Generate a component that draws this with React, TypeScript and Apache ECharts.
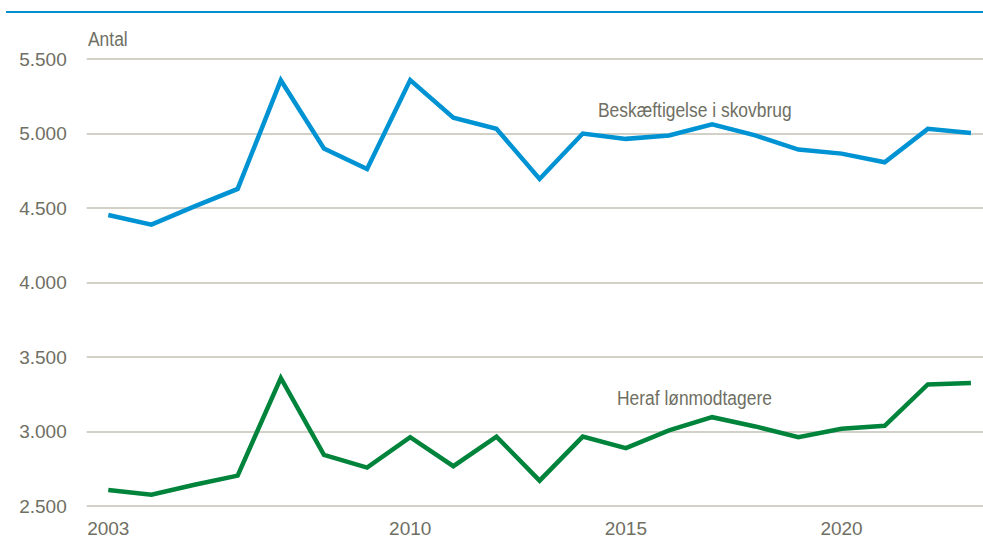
import React, { useEffect, useRef } from "react";
import * as echarts from "echarts";

const years: string[] = [
  "2003", "2004", "2005", "2006", "2007", "2008", "2009", "2010", "2011", "2012",
  "2013", "2014", "2015", "2016", "2017", "2018", "2019", "2020", "2021", "2022", "2023",
];
const shownYears: string[] = ["2003", "2010", "2015", "2020"];

const beskaeftigelse: number[] = [
  4453, 4388, 4511, 4628, 5357, 4899, 4762, 5359, 5106, 5032,
  4695, 5000, 4964, 4987, 5061, 4987, 4892, 4865, 4807, 5031, 5004,
];
const loenmodtagere: number[] = [
  2608, 2576, 2643, 2704, 3359, 2843, 2758, 2962, 2767, 2966,
  2670, 2966, 2888, 3007, 3096, 3034, 2962, 3018, 3038, 3316, 3325,
];

const yMin = 2500;
const yMax = 5500;
const yStep = 500;

const seriesNames: string[] = ["Beskæftigelse i skovbrug", "Heraf lønmodtagere"];
const unitLabel = "Antal";

const FONT = "'Liberation Sans', Arial, sans-serif";
const TEXT = "#6f6f63";
const GRID = "#c3c1b5";
const BLUE = "#0093d3";
const GREEN = "#00843c";
const NARROW = 0.83;

export default function App() {
  const ref = useRef<HTMLDivElement>(null);
  useEffect(() => {
    if (!ref.current) return;
    const chart = echarts.init(ref.current, undefined, { renderer: "svg" });
    chart.setOption({
      animation: false,
      backgroundColor: "#ffffff",
      textStyle: { fontFamily: FONT },
      grid: {
        left: 86.7,
        width: 905.8,
        top: 59,
        height: 447,
        containLabel: false,
        outerBoundsMode: "none",
      },
      xAxis: {
        type: "category",
        data: years,
        boundaryGap: true,
        axisLine: { show: false },
        axisTick: { show: false },
        axisLabel: {
          interval: (_i: number, v: string) => shownYears.includes(v),
          color: TEXT,
          fontSize: 19,
          fontFamily: FONT,
          margin: 13,
        },
        splitLine: { show: false },
      },
      yAxis: {
        type: "value",
        min: yMin,
        max: yMax,
        interval: yStep,
        axisLine: { show: false },
        axisTick: { show: false },
        axisLabel: {
          color: TEXT,
          fontSize: 19,
          fontFamily: FONT,
          margin: 20,
          formatter: (v: number) => v.toLocaleString("de-DE"),
        },
        splitLine: { show: true, lineStyle: { color: GRID, width: 1.5 } },
      },
      series: [
        {
          name: seriesNames[0],
          type: "line",
          data: beskaeftigelse,
          symbol: "none",
          lineStyle: { color: BLUE, width: 4.5, join: "miter" },
        },
        {
          name: seriesNames[1],
          type: "line",
          data: loenmodtagere,
          symbol: "none",
          lineStyle: { color: GREEN, width: 4.5, join: "miter" },
        },
      ],
      graphic: [
        { type: "rect", x: 6, y: 11, shape: { x: 0, y: 0, width: 977, height: 2 }, style: { fill: "#0090d0" } },
        {
          type: "text",
          x: 88,
          y: 39,
          scaleX: NARROW,
          style: { text: unitLabel, fill: TEXT, font: `21px ${FONT}`, textVerticalAlign: "middle", verticalAlign: "middle" },
        },
        {
          type: "text",
          x: 598,
          y: 110,
          scaleX: NARROW,
          style: { text: seriesNames[0], fill: TEXT, font: `21px ${FONT}`, textVerticalAlign: "middle", verticalAlign: "middle" },
        },
        {
          type: "text",
          x: 617,
          y: 398,
          scaleX: NARROW,
          style: { text: seriesNames[1], fill: TEXT, font: `21px ${FONT}`, textVerticalAlign: "middle", verticalAlign: "middle" },
        },
      ],
    });
    return () => chart.dispose();
  }, []);
  return (
    <div
      ref={ref}
      style={{ position: "fixed", left: 0, top: 0, width: 983, height: 543 }}
    />
  );
}
